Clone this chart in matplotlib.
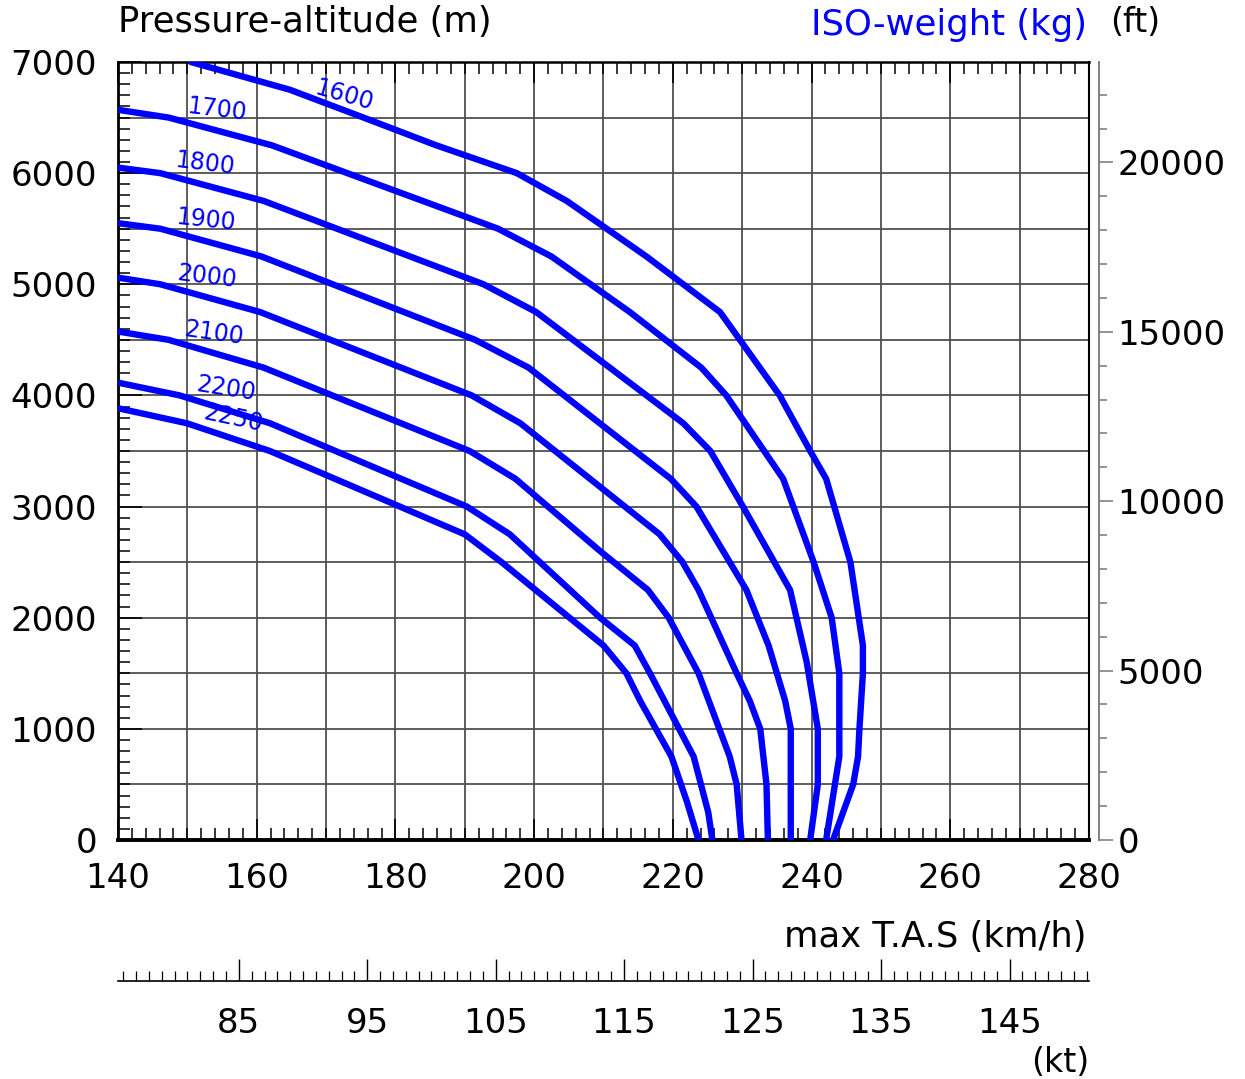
import numpy as np
import matplotlib
matplotlib.use("Agg")
import matplotlib.pyplot as plt
from matplotlib.ticker import MultipleLocator

plt.rcParams['font.family'] = ['DejaVu Sans']

W, H = 1245, 1079

# iso-weight curves: max TAS (km/h) vs pressure altitude (m)
weights = [1600, 1700, 1800, 1900, 2000, 2100, 2200, 2250]

tas_1600 = [150.5, 164.8, 175.4, 185.9, 197.5, 204.7, 216.2, 226.8, 235.4,
            239.8, 242.1, 245.6, 247.4, 247.4, 246.9, 246.7, 246.0, 243.1]
alt_1600 = [7000, 6750, 6500, 6250, 6000, 5750, 5250, 4750, 4000,
            3500, 3250, 2500, 1750, 1500, 1000, 750, 500, 0]

tas_1700 = [140.0, 147.3, 162.2, 194.8, 202.5, 213.8, 224.1, 227.7, 235.9,
            240.3, 242.9, 244.0, 244.0, 242.1]
alt_1700 = [6570, 6500, 6250, 5500, 5250, 4750, 4250, 4000, 3250,
            2500, 2000, 1500, 750, 0]

tas_1800 = [140.0, 146.1, 161.0, 192.7, 200.3, 221.5, 225.4, 230.1, 236.9,
            239.3, 240.9, 240.9, 239.8]
alt_1800 = [6050, 6000, 5750, 5000, 4750, 3750, 3500, 3000, 2250,
            1600, 1000, 500, 0]

tas_1900 = [140.0, 146.1, 160.7, 191.5, 199.2, 219.7, 223.4, 230.6, 233.8,
            236.2, 237.0, 237.0]
alt_1900 = [5550, 5500, 5250, 4500, 4250, 3250, 3000, 2250, 1750,
            1250, 1000, 0]

tas_2000 = [140.0, 146.1, 160.5, 191.0, 198.0, 218.1, 221.4, 223.7, 229.2,
            231.1, 232.6, 233.5, 233.7]
alt_2000 = [5060, 5000, 4750, 4000, 3750, 2750, 2500, 2250, 1500,
            1250, 1000, 500, 0]

tas_2100 = [140.0, 147.3, 161.0, 190.7, 197.3, 209.5, 216.4, 219.4, 223.7,
            228.2, 229.2, 229.9]
alt_2100 = [4575, 4500, 4250, 3500, 3250, 2600, 2250, 2000, 1500,
            750, 500, 0]

tas_2200 = [140.0, 148.9, 161.9, 190.3, 196.5, 209.5, 214.5, 216.7, 223.0,
            225.1, 225.7]
alt_2200 = [4115, 4000, 3750, 3000, 2750, 2000, 1750, 1500, 750, 250, 0]

tas_2250 = [140.0, 149.9, 161.9, 190.0, 195.3, 210.0, 213.3, 215.3, 219.8,
            222.0, 223.7]
alt_2250 = [3885, 3750, 3500, 2750, 2500, 1750, 1500, 1250, 750, 350, 0]

curves = [(tas_1600, alt_1600), (tas_1700, alt_1700), (tas_1800, alt_1800),
          (tas_1900, alt_1900), (tas_2000, alt_2000), (tas_2100, alt_2100),
          (tas_2200, alt_2200), (tas_2250, alt_2250)]

# where the weight labels sit (data coords) and their tilt
label_xy = [(172.6, 6700), (154.3, 6570), (152.5, 6084), (152.7, 5580),
            (152.8, 5067), (153.8, 4563), (155.6, 4059), (156.6, 3789)]
label_rot = [-16, -7, -7, -6, -7, -8, -9, -12]

KMH_PER_KT = 1.852
M_PER_FT = 0.3048

fig = plt.figure(figsize=(W / 100, H / 100), dpi=100)
ax = fig.add_axes([118 / W, 1 - 840 / H, (1089 - 118) / W, (840 - 62) / H])

ax.set_xlim(140, 280)
ax.set_ylim(0, 7000)

# grid every 10 km/h and 500 m
ax.vlines(np.arange(150, 280, 10), 0, 7000, color='#505050', lw=1.3, zorder=1)
ax.hlines(np.arange(500, 7000, 500), 140, 280, color='#505050', lw=1.3, zorder=1)

for (x, y), w in zip(curves, weights):
    ax.plot(x, y, color='#0000ff', lw=4.6, solid_joinstyle='miter',
            solid_capstyle='round', zorder=3)

for (lx, ly), rot, w in zip(label_xy, label_rot, weights):
    ax.text(lx, ly, str(w), color='#0000ff', fontsize=17, rotation=rot,
            ha='center', va='center', rotation_mode='anchor', zorder=2)

ax.xaxis.set_major_locator(MultipleLocator(20))
ax.xaxis.set_minor_locator(MultipleLocator(2))
ax.yaxis.set_major_locator(MultipleLocator(1000))
ax.yaxis.set_minor_locator(MultipleLocator(100))

ax.tick_params(axis='x', which='major', direction='in', top=True, bottom=True,
               length=15, width=1.2, labelsize=24.5, pad=16)
ax.tick_params(axis='x', which='minor', direction='in', top=True, bottom=True,
               length=8.5, width=1.1)
ax.tick_params(axis='y', which='major', direction='in', left=True, right=True,
               length=17, width=1.2, labelsize=24.5, pad=15)
ax.tick_params(axis='y', which='minor', direction='in', left=True, right=True,
               length=8.5, width=1.1)

ax.spines['bottom'].set_linewidth(2.8)
ax.spines['left'].set_linewidth(2.0)
ax.spines['top'].set_linewidth(1.8)
ax.spines['right'].set_linewidth(1.5)

# feet scale on a detached right spine
ax_ft = ax.twinx()
ax_ft.set_ylim(0, 7000 / M_PER_FT)
for s in ['left', 'top', 'bottom']:
    ax_ft.spines[s].set_visible(False)
ax_ft.spines['right'].set_position(('outward', 7.5))
ax_ft.spines['right'].set_color('#777777')
ax_ft.spines['right'].set_linewidth(1.3)
ax_ft.yaxis.set_major_locator(MultipleLocator(5000))
ax_ft.yaxis.set_minor_locator(MultipleLocator(1000))
ax_ft.tick_params(axis='y', which='major', direction='out', length=10,
                  width=1.1, color='#777777', labelsize=24.5, pad=3)
ax_ft.tick_params(axis='y', which='minor', direction='out', length=5.5,
                  width=1.1, color='#777777')

# knots scale below the chart
ax_kt = fig.add_axes([118 / W, 1 - 981 / H, (1089 - 118) / W, 0.02])
ax_kt.patch.set_visible(False)
ax_kt.set_xlim(140 / KMH_PER_KT, 280 / KMH_PER_KT)
for s in ['left', 'top', 'right']:
    ax_kt.spines[s].set_visible(False)
ax_kt.spines['bottom'].set_linewidth(1.2)
ax_kt.set_yticks([])
ax_kt.set_xticks(np.arange(85, 150, 10))
ax_kt.xaxis.set_minor_locator(MultipleLocator(1))
ax_kt.tick_params(axis='x', which='major', direction='in', length=16,
                  width=1.0, labelsize=24.5, pad=19)
ax_kt.tick_params(axis='x', which='minor', direction='in', length=7,
                  width=0.9)

fig.text(118 / W, 1 - 22 / H, 'Pressure-altitude (m)', fontsize=25.5,
         ha='left', va='center')
fig.text(1087 / W, 1 - 25 / H, 'ISO-weight (kg)', fontsize=25.5,
         color='#0000ff', ha='right', va='center')
fig.text(1110 / W, 1 - 22 / H, '(ft)', fontsize=24, ha='left', va='center')
fig.text(1087 / W, 1 - 937 / H, 'max T.A.S (km/h)', fontsize=25.5,
         ha='right', va='center')
fig.text(1089 / W, 1 - 1062 / H, '(kt)', fontsize=24, ha='right', va='center')

fig.savefig('out.png', dpi=100)
